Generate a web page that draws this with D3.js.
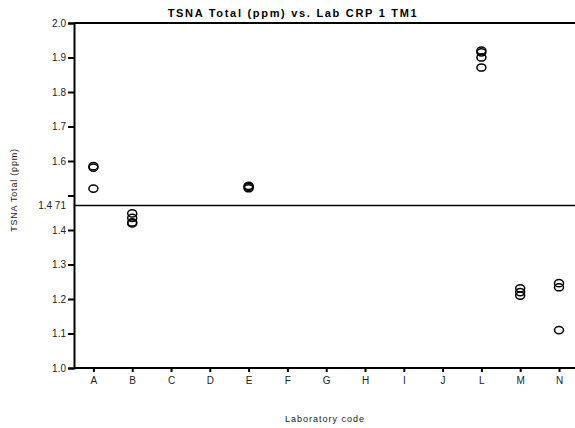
<!DOCTYPE html>
<html>
<head>
<meta charset="utf-8">
<script src="https://cdn.jsdelivr.net/npm/d3@7"></script>
<style>
  body { margin: 0; background: #fff; }
  text { font-family: "Liberation Sans", Arial, sans-serif; }
</style>
</head>
<body>
<div id="chart"></div>
<script>
// lab codes on the x axis
var categories = ['A', 'B', 'C', 'D', 'E', 'F', 'G', 'H', 'I', 'J', 'L', 'M', 'N']
// each measured point: lab and TSNA total (ppm)
var pointLab = ['A', 'A', 'A', 'B', 'B', 'B', 'B', 'E', 'E', 'E', 'L', 'L', 'L', 'L', 'M', 'M', 'M', 'N', 'N', 'N']
var pointValue = [1.585, 1.581, 1.520, 1.448, 1.435, 1.422, 1.419, 1.528, 1.525, 1.521, 1.920, 1.915, 1.900, 1.871, 1.231, 1.220, 1.210, 1.246, 1.234, 1.110]
var yTicks = [1.0, 1.1, 1.2, 1.3, 1.4, 1.5, 1.6, 1.7, 1.8, 1.9, 2.0]
var refValue = 1.471
var refLabel = '1.4 71'

var w = 575
var h = 428
var mLeft = 74
var mTop = 23
var mBottom = 368

var svg = d3.select('#chart')
  .append('svg')
  .attr('width', w)
  .attr('height', h)

var x = d3.scalePoint()
  .domain(categories)
  .range([mLeft, mLeft + 38.8 * 13])
  .padding(0.5)

var y = d3.scaleLinear()
  .domain([1.0, 2.0])
  .range([mBottom, mTop])

// title
svg.append('text')
  .attr('x', 293)
  .attr('y', 17)
  .attr('text-anchor', 'middle')
  .attr('font-size', 11)
  .attr('font-weight', 'bold')
  .attr('letter-spacing', 1.7)
  .text('TSNA Total (ppm) vs. Lab CRP 1 TM1')

// top frame line
svg.append('line')
  .attr('x1', mLeft).attr('x2', w)
  .attr('y1', y(2.0)).attr('y2', y(2.0))
  .attr('stroke', '#000')
  .attr('stroke-width', 2)

// reference line
svg.append('line')
  .attr('x1', mLeft).attr('x2', w)
  .attr('y1', y(refValue)).attr('y2', y(refValue))
  .attr('stroke', '#000')
  .attr('stroke-width', 1.5)

svg.append('text')
  .attr('x', mLeft - 8)
  .attr('y', y(refValue) + 3.5)
  .attr('text-anchor', 'end')
  .attr('font-size', 10)
  .attr('fill', '#222')
  .text(refLabel)

// y axis
var yAxis = svg.append('g')
  .attr('transform', 'translate(' + mLeft + ',0)')
  .call(d3.axisLeft(y)
    .tickValues(yTicks)
    .tickSize(6)
    .tickPadding(2)
    .tickFormat(function (d) { return d === 1.5 ? '' : d.toFixed(1) }))
yAxis.select('.domain').attr('stroke-width', 2)
yAxis.selectAll('.tick line').attr('stroke-width', 2)
yAxis.selectAll('text')
  .attr('font-family', '"Liberation Sans", Arial, sans-serif')
  .attr('font-size', 10)
  .attr('fill', '#222')

// x axis
var xAxis = svg.append('g')
  .attr('transform', 'translate(0,' + mBottom + ')')
  .call(d3.axisBottom(x).tickSize(4).tickPadding(5))
xAxis.select('.domain')
  .attr('d', 'M' + mLeft + ',0H' + w)
  .attr('stroke-width', 2)
xAxis.selectAll('.tick line').attr('stroke-width', 2)
xAxis.selectAll('text')
  .attr('font-family', '"Liberation Sans", Arial, sans-serif')
  .attr('font-size', 10)
  .attr('fill', '#222')

// axis titles
svg.append('text')
  .attr('x', 325)
  .attr('y', 422)
  .attr('text-anchor', 'middle')
  .attr('font-size', 9)
  .attr('letter-spacing', 1)
  .attr('fill', '#222')
  .text('Laboratory code')

svg.append('text')
  .attr('transform', 'translate(17,' + 190 + ') rotate(-90)')
  .attr('text-anchor', 'middle')
  .attr('font-size', 9)
  .attr('letter-spacing', 0.8)
  .attr('fill', '#222')
  .text('TSNA Total (ppm)')

// points
var idx = d3.range(pointValue.length)
svg.selectAll('ellipse.pt')
  .data(idx)
  .enter()
  .append('ellipse')
  .attr('class', 'pt')
  .attr('cx', function (d) { return x(pointLab[d]) })
  .attr('cy', function (d) { return y(pointValue[d]) })
  .attr('rx', 4.5)
  .attr('ry', 3.6)
  .attr('fill', 'none')
  .attr('stroke', '#000')
  .attr('stroke-width', 1.5)
</script>
</body>
</html>
